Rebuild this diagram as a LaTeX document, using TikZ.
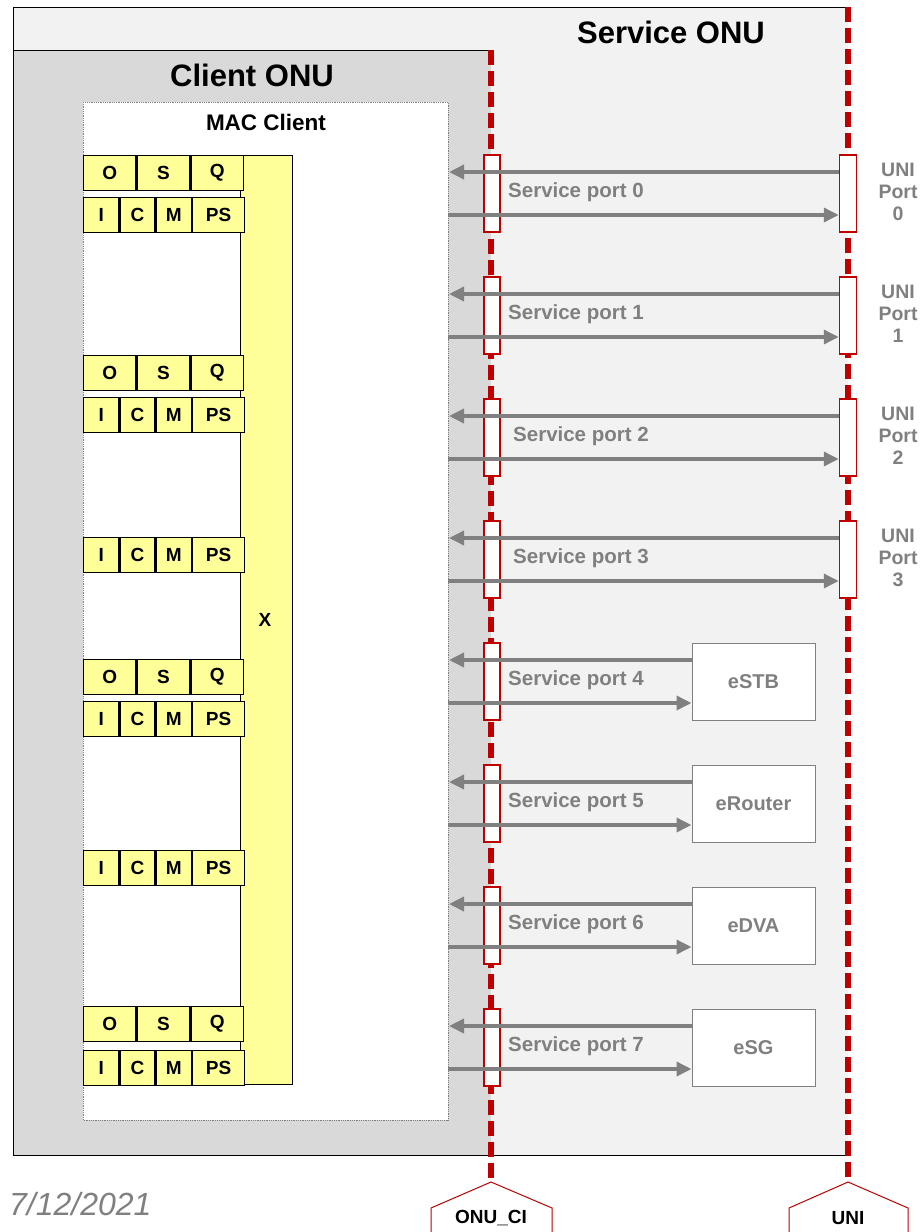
\documentclass[tikz,border=0pt]{standalone}
\usepackage{fontspec}
\setmainfont{Liberation Sans}
\usetikzlibrary{arrows.meta}
\definecolor{redl}{RGB}{192,0,0}
\definecolor{ygl}{RGB}{255,255,153}
\definecolor{gtxt}{RGB}{128,128,128}
\definecolor{svcbg}{RGB}{242,242,242}
\definecolor{clbg}{RGB}{217,217,217}
\begin{document}
\begin{tikzpicture}[x=1pt,y=-1pt,
  cell/.style={draw=black,line width=1.3pt,fill=ygl,inner sep=0pt,anchor=north west,
    minimum height=35pt,font=\bfseries\fontsize{19}{19}\selectfont},
  spbox/.style={draw=redl,fill=white,line width=1.5pt,inner sep=0pt,minimum width=16pt,minimum height=77pt},
  devbox/.style={draw=gtxt,fill=white,line width=1pt,inner sep=0pt,minimum width=123pt,minimum height=77pt,
    text=gtxt,font=\bfseries\fontsize{20}{20}\selectfont},
  plabel/.style={anchor=west,inner sep=0pt,text=gtxt,font=\bfseries\fontsize{20.5}{20}\selectfont},
  ulabel/.style={inner sep=0pt,align=center,text=gtxt,font=\bfseries\fontsize{19.5}{22}\selectfont},
  arr/.style={draw=gtxt,line width=3.5pt,-{Triangle[length=15pt,width=14pt]}},
  cline/.style={draw=redl,line width=6.5pt,dash pattern=on 15pt off 6pt},
  tag/.style={draw=redl,line width=1pt},
  title/.style={inner sep=0pt,font=\bfseries\fontsize{31}{31}\selectfont}
]
\useasboundingbox (0,0) rectangle (922,1232);
\fill[white] (0,0) rectangle (922,1232);
% Service ONU
\fill[svcbg] (13,7) rectangle (848,1155);
\draw[black,line width=1pt] (848,7) -- (13,7) -- (13,1155) -- (848,1155);
% Client ONU
\fill[clbg] (13,50) rectangle (491,1155);
\draw[black,line width=1pt] (491,50) -- (13,50) -- (13,1155) -- (491,1155);
% MAC client
\draw[gtxt,fill=white,line width=0.8pt,densely dotted] (83,102) rectangle (448,1120);
\node[title] (svc) at (671,32) {Service ONU};
\node[title] (cli) at (252,75) {Client ONU};
\node[inner sep=0pt,font=\bfseries\fontsize{22.5}{22}\selectfont] (mac) at (266,122) {MAC Client};
% X box
\node[cell,minimum width=52pt,minimum height=929pt] (xb) at (240,155) {};
\node[font=\bfseries\fontsize{19}{19}\selectfont] (xl) at (265,620) {X};
% OSQ rows
\foreach \n/\yy in {a/155,b/355,c/659,d/1006}{
  \node[cell,minimum width=52pt] (o\n) at (83,\yy) {O};
  \node[cell,minimum width=53pt] (s\n) at (o\n.north east) {S};
  \node[cell,minimum width=52pt] (q\n) at (s\n.north east) {Q};
}
% ICMPS rows
\foreach \n/\yy in {a/197,b/397,c/537,d/701,e/850,f/1050}{
  \node[cell,minimum width=35pt] (i\n) at (83,\yy) {I};
  \node[cell,minimum width=35pt] (c\n) at (i\n.north east) {C};
  \node[cell,minimum width=35pt] (m\n) at (c\n.north east) {M};
  \node[cell,minimum width=52pt] (p\n) at (m\n.north east) {PS};
}
% boundary lines and tags
\coordinate (onuci) at (491,1182);
\coordinate (unit) at (848,1182);
\draw[cline] (491,50) -- (onuci);
\draw[cline] (848,7) -- (unit);
\draw[tag] (431,1232) -- (431,1208) -- (onuci) -- (552,1208) -- (552,1232);
\draw[tag] (789,1232) -- (789,1208) -- (unit) -- (908,1208) -- (908,1232);
\node[inner sep=0pt,font=\bfseries\fontsize{19}{19}\selectfont] (onucil) at (491,1218) {ONU\_CI};
\node[inner sep=0pt,font=\bfseries\fontsize{19}{19}\selectfont] (unil) at (848,1218) {UNI};
% service ports
\foreach \k in {0,...,7}{
  \pgfmathsetmacro\yc{193.5+122*\k}
  \node[spbox] (sp\k) at (492,\yc) {};
}
% UNI ports
\foreach \k in {0,...,3}{
  \pgfmathsetmacro\yc{193.5+122*\k}
  \node[spbox,minimum width=17pt] (t\k) at (848,\yc) {};
  \node[ulabel] (ul\k) at (898,\yc-1.5) {UNI\\Port\\\k};
}
% devices
\foreach \k/\d in {4/eSTB,5/eRouter,6/eDVA,7/eSG}{
  \pgfmathsetmacro\yc{193.5+122*\k}
  \node[devbox] (t\k) at (753.5,\yc) {\d};
}
% arrows and labels
\foreach \k in {0,...,7}{
  \pgfmathsetmacro\yc{193.5+122*\k}
  \coordinate (la\k) at (449,\yc-21.5);
  \coordinate (rs\k) at (448,\yc+21.5);
  \draw[arr] (t\k.west |- la\k) -- (la\k);
  \draw[arr] (rs\k) -- (t\k.west |- rs\k);
}
\foreach \k/\xx in {0/508,1/508,2/513,3/513,4/508,5/508,6/508,7/508}{
  \pgfmathsetmacro\yc{193.5+122*\k}
  \node[plabel] (spl\k) at (\xx,\yc-1.5) {Service port \k};
}
\node[anchor=west,inner sep=0pt,text=gtxt,font=\itshape\fontsize{32}{32}\selectfont] (date) at (9,1204) {7/12/2021};
\end{tikzpicture}
\end{document}
